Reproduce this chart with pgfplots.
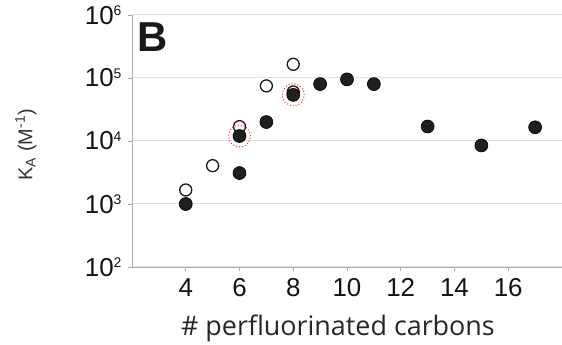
\documentclass[border=0pt]{standalone}
\usepackage{pgfplots}
\pgfplotsset{compat=1.18}
\usepackage{fontspec}
\setmainfont{Liberation Sans}
\newfontfamily\opensans{Open Sans}
\newcommand{\sx}[1]{\raisebox{8.6bp}{\fontsize{14}{14}\selectfont #1}}
\begin{document}
\begin{tikzpicture}
\begin{axis}[
  scale only axis, width=430bp, height=252bp,
  at={(0,0)}, anchor=south west,
  ymode=log, ymin=1e2, ymax=1e6, xmin=2, xmax=18,
  axis lines=left, axis line style={-, draw=black!30, line width=0.9bp},
  xtick={4,6,...,16},
  ytick={1e2,1e3,1e4,1e5,1e6},
  yticklabels={10\sx{2},10\sx{3},10\sx{4},10\sx{5},10\sx{6}},
  yminorticks=false,
  tick align=outside, major tick length=4bp,
  tick style={draw=black!35, line width=0.8bp},
  ymajorgrids, grid style={draw=black!12, line width=1bp},
  /pgf/number format/assume math mode=true,
  ticklabel style={font=\fontsize{26}{28}\selectfont, text=black!92},
  yticklabel style={xshift=-3bp},
  xticklabel style={yshift=-4bp},
  xlabel={\opensans\# perfluorinated carbons},
  xlabel style={font=\fontsize{27}{29}\selectfont, text=black!85, at={(axis description cs:0.479,0)}, anchor=center, yshift=-61bp},
  ylabel={K\textsubscript{A} (M\textsuperscript{-1})},
  ylabel style={font=\fontsize{20}{22}\selectfont, text=black!80, at={(axis description cs:0,0.485)}, anchor=center, yshift=106bp},
  clip=false,
]
\addplot[only marks, mark=*, mark size=6bp, mark options={fill=white, draw=black!90, line width=1.3bp}]
  coordinates {(4,1670) (5,4060) (6,16900) (7,75000) (8,165000) (8,60000)};
\addplot[only marks, mark=*, mark size=6.5bp, mark options={fill=black!88, draw=black, line width=0.6bp}]
  coordinates {(4,1000) (6,3100) (6,12000) (7,20000) (8,54000) (9,80000) (10,95000) (11,80000) (13,17000) (15,8500) (17,16500)};
\addplot[only marks, mark=o, mark size=11bp, mark options={draw=red!85, line width=1bp, dotted}]
  coordinates {(6,12000) (8,54000)};
\node[font=\bfseries\fontsize{42}{42}\selectfont, inner sep=0pt, anchor=center, text=black!90] at (rel axis cs:0,1) [xshift=21bp, yshift=-22bp] {B};
\end{axis}
\pgfresetboundingbox
\path (-132bp,-78bp) rectangle (430bp,267bp);
\end{tikzpicture}
\end{document}
